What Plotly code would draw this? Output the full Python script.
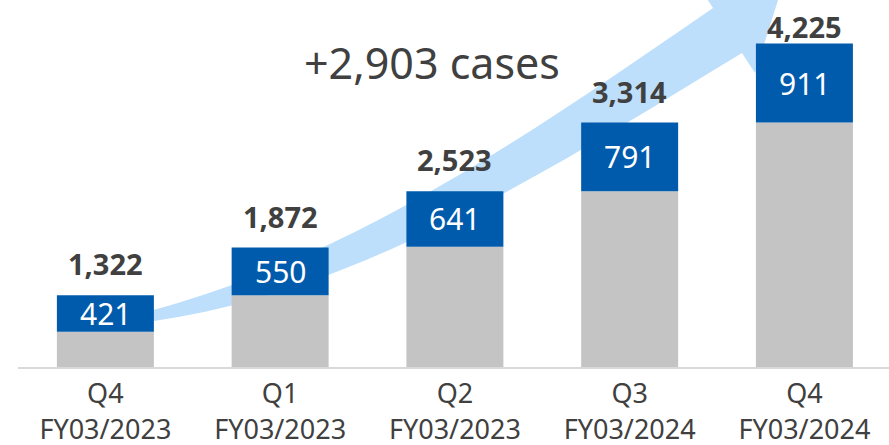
import plotly.graph_objects as go

# ---- data ----
quarters = ["Q4<br>FY03/2023", "Q1<br>FY03/2023", "Q2<br>FY03/2023", "Q3<br>FY03/2024", "Q4<br>FY03/2024"]
totals = [1322, 1872, 2523, 3314, 4225]
new_cases = [421, 550, 641, 791, 911]
base_cases = [t - n for t, n in zip(totals, new_cases)]

# ---- style ----
W, H = 889, 445
ML, MR, MT, MB = 18, 0, 0, 78
PW, PH = W - ML - MR, H - MT - MB
FONT = "Noto Sans"
DARK = "#404040"
BLUE = "#005BAC"
GRAY = "#C4C4C4"
ARROW = "#BDDFFB"
Y_RANGE = [495, 4728]
TOTAL_SHIFT = [10, 10, 10, 10, -4]

xs = list(range(len(quarters)))

fig = go.Figure()
fig.add_trace(go.Bar(x=xs, y=base_cases, marker=dict(color=GRAY, line=dict(width=0)),
                     hoverinfo="skip", showlegend=False))
fig.add_trace(go.Bar(x=xs, y=new_cases, base=base_cases, marker=dict(color=BLUE, line=dict(width=0)),
                     hoverinfo="skip", showlegend=False))

annotations = []
for i in xs:
    annotations.append(dict(x=i, y=totals[i], xref="x", yref="y", text=f"<b>{totals[i]:,}</b>",
                            showarrow=False, yanchor="bottom", yshift=TOTAL_SHIFT[i],
                            font=dict(family=FONT, size=29, color=DARK)))
    annotations.append(dict(x=i, y=base_cases[i] + new_cases[i] / 2, xref="x", yref="y",
                            text=f"{new_cases[i]:,}", showarrow=False, yanchor="middle",
                            font=dict(family=FONT, size=30, color="white")))

# growth label
annotations.append(dict(x=(432 - ML) / PW, y=1 - (62 - MT) / PH, xref="paper", yref="paper",
                        text=f"+{totals[-1] - totals[0]:,} cases", showarrow=False,
                        xanchor="center", yanchor="middle",
                        font=dict(family=FONT, size=43, color=DARK)))


def P(px, py):
    return f"{(px - ML) / PW:.5f},{1 - (py - MT) / PH:.5f}"


# decorative curved arrow (pixel-space outline converted to paper coords)
arrow_path = (
    f"M {P(110, 324)} "
    f"L {P(150, 311)} "
    f"C {P(350, 257)} {P(513, 146)} {P(713, 8)} "
    f"L {P(700, -12)} L {P(779, -3)} L {P(755, 73)} L {P(742, 53)} "
    f"C {P(542, 175)} {P(354, 293)} {P(154, 321)} "
    f"Z"
)

fig.update_layout(
    width=W, height=H,
    margin=dict(l=ML, r=MR, t=MT, b=MB, pad=0, autoexpand=False),
    paper_bgcolor="white", plot_bgcolor="white",
    barmode="overlay", bargap=0.445,
    showlegend=False,
    annotations=annotations,
    shapes=[dict(type="path", path=arrow_path, xref="paper", yref="paper",
                 fillcolor=ARROW, line=dict(width=0), layer="below")],
    xaxis=dict(tickmode="array", tickvals=xs, ticktext=quarters, range=[-0.5, 4.484],
               showline=True, linecolor="#D9D9D9", linewidth=2, showgrid=False,
               zeroline=False, ticks="", ticklabelstandoff=2, automargin=False,
               tickfont=dict(family=FONT, size=27, color=DARK)),
    yaxis=dict(range=Y_RANGE, visible=False, showgrid=False, zeroline=False, automargin=False),
    font=dict(family=FONT, color=DARK),
)

fig.write_html("out.html", config={"displayModeBar": False, "staticPlot": True},
               post_script="document.body.style.margin='0';document.body.style.overflow='hidden';")
